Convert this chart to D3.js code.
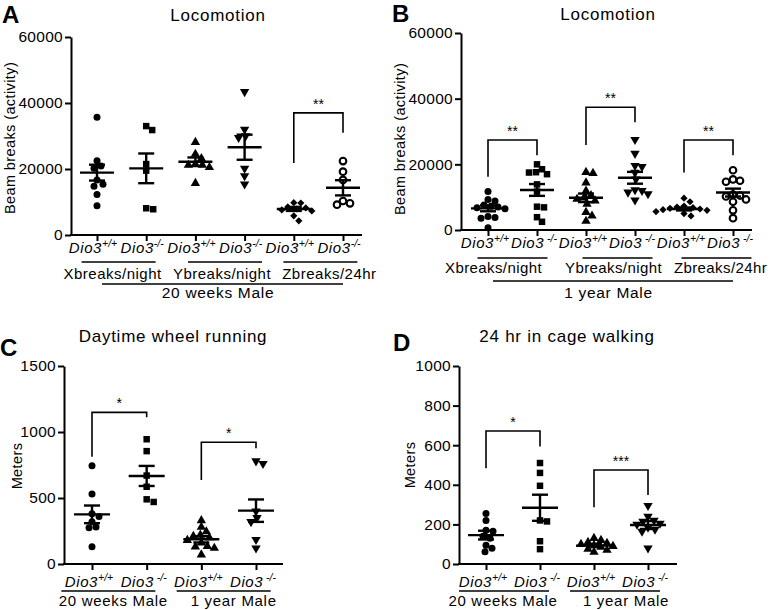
<!DOCTYPE html>
<html><head><meta charset="utf-8">
<script src="https://cdn.jsdelivr.net/npm/d3@7"></script>
<style>
body{margin:0;background:#fff}
text{font-family:"Liberation Sans",Arial,Helvetica,sans-serif;fill:#000}
</style>
</head><body>
<svg id="c" width="780" height="610"></svg>
<script>
// ---------------- DATA ----------------
const genotypeBase = "Dio3";
const genoSupA = ["+/+", "-/-"];
const genoSupB = ["+/+", " -/-"];

// Panel A: Locomotion, 20 weeks Male (beam breaks)
const aTitle = "Locomotion";
const aGroups = ["Xbreaks/night", "Ybreaks/night", "Zbreaks/24hr"];
const aAge = "20 weeks Male";
const aTicks = [0, 20000, 40000, 60000];
const aValues = [
  [35700, 22500, 20900, 20200, 16700, 15400, 14800, 12300, 8900],
  [33000, 31800, 21500, 19500, 8100, 7800],
  [28100, 24500, 23200, 21500, 21200, 21200, 20500, 15700],
  [43400, 32000, 30000, 29500, 20200, 17900, 15400],
  [9800, 9700, 8500, 8200, 7900, 7600, 7300, 5800, 4300],
  [22400, 19200, 16700, 10300, 9600, 9200]
];
const aMeans = [18900, 20200, 22200, 26600, 7900, 14300];
const aSEM = [2400, 4500, 1300, 3800, 600, 2300];
const aBrackets = [[4, 5, 37000, 21800, 31000, "**"]];

// Panel B: Locomotion, 1 year Male
const bTitle = "Locomotion";
const bGroups = ["Xbreaks/night", "Ybreaks/night", "Zbreaks/24hr"];
const bAge = "1 year Male";
const bTicks = [0, 20000, 40000, 60000];
const bValues = [
  [11700, 9300, 8800, 7600, 7200, 7000, 6800, 6500, 4100, 3800, 3600, 700],
  [20000, 18500, 17600, 17500, 17000, 13900, 11700, 7100, 6900, 3900, 2500],
  [17600, 17300, 14400, 11900, 10500, 9800, 9400, 8900, 7900, 5400, 4300, 2700],
  [27500, 23300, 19600, 19300, 17500, 15500, 12200, 12000, 11500, 11000, 9100],
  [9700, 8600, 7300, 7000, 6800, 6600, 6400, 6200, 6000, 5600, 5000, 4300],
  [18200, 15400, 15000, 14700, 10800, 10500, 10200, 9300, 8600, 6000, 3600]
];
const bMeans = [6600, 12200, 9800, 15900, 6400, 11400];
const bSEM = [900, 1800, 1300, 1800, 450, 1200];
const bBrackets = [[0, 1, 27400, 16200, 22800, "**"], [2, 3, 37400, 25900, 32800, "**"], [4, 5, 27400, 17500, 22800, "**"]];

// Panel C: Daytime wheel running (meters)
const cTitle = "Daytime wheel running";
const cGroups = ["20 weeks Male", "1 year Male"];
const cTicks = [0, 500, 1000, 1500];
const cValues = [
  [745, 530, 380, 360, 320, 280, 275, 130],
  [945, 855, 670, 585, 490, 470],
  [330, 280, 245, 220, 210, 200, 180, 160, 135, 130, 120, 70],
  [780, 760, 400, 350, 320, 185, 120]
];
const cMeans = [376, 667, 187, 404];
const cSEM = [67, 76, 24, 85];
const cBrackets = [[0, 1, 1149, 813, 1111, "*"], [2, 3, 922, 636, 876, "*"]];

// Panel D: 24 hr in cage walking (meters)
const dTitle = "24 hr in cage walking";
const dGroups = ["20 weeks Male", "1 year Male"];
const dTicks = [0, 200, 400, 600, 800, 1000];
const dValues = [
  [255, 220, 170, 165, 140, 130, 95, 80, 62],
  [510, 460, 395, 220, 215, 115, 75],
  [130, 120, 110, 105, 100, 95, 90, 85, 75, 70, 60],
  [295, 240, 220, 215, 205, 200, 185, 175, 165, 80]
];
const dMeans = [146, 284, 93, 197];
const dSEM = [22, 66, 8, 20];
const dBrackets = [[0, 1, 672, 483, 593, "*"], [2, 3, 475, 286, 348, "***"]];

// ---------------- DRAWING ----------------
const svg = d3.select("#c");

function markerPath(sel, kind) {
  if (kind === "circle" || kind === "open") {
    sel.append("circle").attr("r", kind === "open" ? 3.3 : 3.5)
      .attr("fill", kind === "open" ? "#fff" : "#000")
      .attr("stroke", kind === "open" ? "#000" : "none")
      .attr("stroke-width", 2.1);
  } else if (kind === "square") {
    sel.append("path").attr("d", d3.symbol(d3.symbolSquare, 42)()).attr("fill", "#000");
  } else if (kind === "triangle") {
    sel.append("path").attr("d", d3.symbol(d3.symbolTriangle, 38)()).attr("fill", "#000");
  } else if (kind === "tridown") {
    sel.append("path").attr("d", d3.symbol(d3.symbolTriangle, 38)()).attr("transform", "rotate(180)").attr("fill", "#000");
  } else if (kind === "diamond") {
    sel.append("path").attr("d", d3.symbol(d3.symbolSquare, 26)()).attr("transform", "rotate(45)").attr("fill", "#000");
  }
}

function swarm(vals, y, d) {
  const pts = vals.map(v => ({ v, py: y(v) })).sort((a, b) => a.py - b.py);
  const placed = [];
  for (const p of pts) {
    let off = 0;
    for (let n = 0; n < 200; n++) {
      off = n === 0 ? 0 : (n % 2 ? 1 : -1) * Math.ceil(n / 2);
      if (placed.every(q => Math.hypot(q.dx - off, q.py - p.py) >= d)) break;
    }
    p.dx = off;
    placed.push(p);
  }
  return placed;
}

function drawPanel(cfg) {
  const g = svg.append("g");
  const y = d3.scaleLinear().domain([0, cfg.ticks[cfg.ticks.length - 1]]).range([cfg.y0, cfg.yTop]);
  const x = d3.scalePoint().domain(d3.range(cfg.values.length)).range([cfg.xFirst, cfg.xLast]);

  // panel letter and title
  g.append("text").attr("x", cfg.letterX).attr("y", cfg.letterY).attr("font-size", 24)
    .attr("font-weight", "bold").text(cfg.letter);
  g.append("text").attr("x", cfg.titleX).attr("y", cfg.titleY).attr("text-anchor", "middle")
    .attr("font-size", 17).attr("letter-spacing", 0.75).text(cfg.title);

  // y axis
  const ya = g.append("g").attr("transform", `translate(${cfg.axisX},0)`)
    .call(d3.axisLeft(y).tickValues(cfg.ticks).tickSize(6).tickPadding(2).tickSizeOuter(0).tickFormat(d3.format("d")));
  ya.select(".domain").attr("stroke-width", 2);
  ya.selectAll(".tick line").attr("stroke-width", 2);
  ya.selectAll(".tick text").attr("font-size", 15.5).attr("letter-spacing", 0.3)
    .style("font-family", '"Liberation Sans",Arial,sans-serif');
  g.append("text").attr("transform", `translate(${cfg.ytX},${cfg.ytY}) rotate(-90)`)
    .attr("text-anchor", "middle").attr("font-size", 14.5).attr("letter-spacing", 0.4).text(cfg.yTitle);

  // x axis
  const xa = g.append("g").attr("transform", `translate(0,${cfg.y0})`)
    .call(d3.axisBottom(x).tickSize(6).tickFormat(""));
  xa.select(".domain").remove();
  xa.selectAll(".tick line").attr("stroke-width", 2);
  g.append("line").attr("x1", cfg.axisX - 1).attr("x2", cfg.axisEnd).attr("y1", cfg.y0).attr("y2", cfg.y0)
    .attr("stroke", "#000").attr("stroke-width", 2);

  // points
  cfg.values.forEach((vals, i) => {
    const cx = x(i);
    swarm(vals, y, 6.6).forEach(p => {
      const m = g.append("g").attr("transform", `translate(${cx + p.dx},${p.py})`);
      markerPath(m, cfg.markers[i]);
    });
    // mean +/- SEM
    const mY = y(cfg.means[i]), hi = y(cfg.means[i] + cfg.sem[i]), lo = y(cfg.means[i] - cfg.sem[i]);
    const eb = g.append("g").attr("stroke", "#000").attr("stroke-width", 2.4);
    eb.append("line").attr("x1", cx - cfg.meanHalf).attr("x2", cx + cfg.meanHalf).attr("y1", mY).attr("y2", mY);
    eb.append("line").attr("x1", cx).attr("x2", cx).attr("y1", hi).attr("y2", lo);
    eb.append("line").attr("x1", cx - 8).attr("x2", cx + 8).attr("y1", hi).attr("y2", hi);
    eb.append("line").attr("x1", cx - 8).attr("x2", cx + 8).attr("y1", lo).attr("y2", lo);
  });

  // significance brackets
  cfg.brackets.forEach(([i, j, top, l, r, lab]) => {
    const x1 = x(i), x2 = x(j);
    g.append("path").attr("d", `M${x1},${y(l)}V${y(top)}H${x2}V${y(r)}`)
      .attr("fill", "none").attr("stroke", "#000").attr("stroke-width", 1.6);
    g.append("text").attr("x", (x1 + x2) / 2).attr("y", y(top) - 4).attr("text-anchor", "middle")
      .attr("font-size", 14).text(lab);
  });

  // category labels (genotypes)
  cfg.values.forEach((v, i) => {
    const t = g.append("text").attr("x", x(i) + cfg.labDx).attr("y", cfg.labY).attr("text-anchor", "middle").attr("font-size", 15);
    t.append("tspan").attr("font-style", "italic").attr("letter-spacing", 0.6).text(genotypeBase);
    t.append("tspan").attr("dy", -6).attr("font-size", 10.5).attr("font-style", "italic").text(cfg.sup[i % 2]);
  });

  // group underlines and labels
  cfg.groups.forEach((name, p) => {
    const c = (x(2 * p) + x(2 * p + 1)) / 2;
    g.append("line").attr("x1", c + cfg.ulShift[p] - cfg.ulHalf).attr("x2", c + cfg.ulShift[p] + cfg.ulHalf)
      .attr("y1", cfg.ulY).attr("y2", cfg.ulY).attr("stroke", "#000").attr("stroke-width", 1.6);
    g.append("text").attr("x", c + cfg.glShift[p]).attr("y", cfg.glY).attr("text-anchor", "middle")
      .attr("font-size", 15).attr("letter-spacing", cfg.glLs).text(name);
  });

  if (cfg.age) {
    g.append("line").attr("x1", x(0) + 5).attr("x2", x(cfg.values.length - 1)).attr("y1", cfg.ageLineY).attr("y2", cfg.ageLineY)
      .attr("stroke", "#000").attr("stroke-width", 1.6);
    g.append("text").attr("x", (x(0) + x(cfg.values.length - 1)) / 2 - 2).attr("y", cfg.ageY).attr("text-anchor", "middle")
      .attr("font-size", 15.5).attr("letter-spacing", 0.7).text(cfg.age);
  }
}

drawPanel({
  letter: "A", letterX: 2, letterY: 23, title: aTitle, titleX: 218, titleY: 21,
  values: aValues, means: aMeans, sem: aSEM, brackets: aBrackets, ticks: aTicks,
  markers: ["circle", "square", "triangle", "tridown", "diamond", "open"],
  y0: 235, yTop: 37, xFirst: 97, xLast: 343, axisX: 71, axisEnd: 362,
  yTitle: "Beam breaks (activity)", ytX: 15, ytY: 138, meanHalf: 17,
  sup: genoSupA, labY: 253, labDx: -4, groups: aGroups, ulY: 262, ulHalf: 37, ulShift: [-3, 5, 2], glY: 279, glShift: [-9, 2, 11], glLs: 0.5,
  age: aAge, ageLineY: 284, ageY: 298
});
drawPanel({
  letter: "B", letterX: 392, letterY: 22, title: bTitle, titleX: 608, titleY: 20,
  values: bValues, means: bMeans, sem: bSEM, brackets: bBrackets, ticks: bTicks,
  markers: ["circle", "square", "triangle", "tridown", "diamond", "open"],
  y0: 230, yTop: 33, xFirst: 488, xLast: 733, axisX: 461, axisEnd: 752,
  yTitle: "Beam breaks (activity)", ytX: 405, ytY: 139, meanHalf: 17,
  sup: genoSupB, labY: 248, labDx: -3, groups: bGroups, ulY: 258, ulHalf: 35, ulShift: [0, 7, 8], glY: 273, glShift: [-19, 3, 12], glLs: 0.4,
  age: bAge, ageLineY: 281, ageY: 298
});
drawPanel({
  letter: "C", letterX: 0, letterY: 356, title: cTitle, titleX: 173, titleY: 342,
  values: cValues, means: cMeans, sem: cSEM, brackets: cBrackets, ticks: cTicks,
  markers: ["circle", "square", "triangle", "tridown"],
  y0: 564, yTop: 366, xFirst: 92, xLast: 256, axisX: 64, axisEnd: 283,
  yTitle: "Meters", ytX: 22, ytY: 466, meanHalf: 18,
  sup: genoSupB, labY: 587, labDx: -3, groups: cGroups, ulY: 591, ulHalf: 47, ulShift: [-11, -5], glY: 606, glShift: [-6, 5], glLs: 0.7,
  age: null
});
drawPanel({
  letter: "D", letterX: 393, letterY: 351, title: dTitle, titleX: 567, titleY: 342,
  values: dValues, means: dMeans, sem: dSEM, brackets: dBrackets, ticks: dTicks,
  markers: ["circle", "square", "triangle", "tridown"],
  y0: 564, yTop: 366, xFirst: 486, xLast: 648, axisX: 459, axisEnd: 677,
  yTitle: "Meters", ytX: 415, ytY: 465, meanHalf: 18,
  sup: genoSupB, labY: 587, labDx: -3, groups: dGroups, ulY: 591, ulHalf: 45, ulShift: [-9, -6], glY: 606, glShift: [-10, 5], glLs: 0.7,
  age: null
});
</script>
</body></html>
